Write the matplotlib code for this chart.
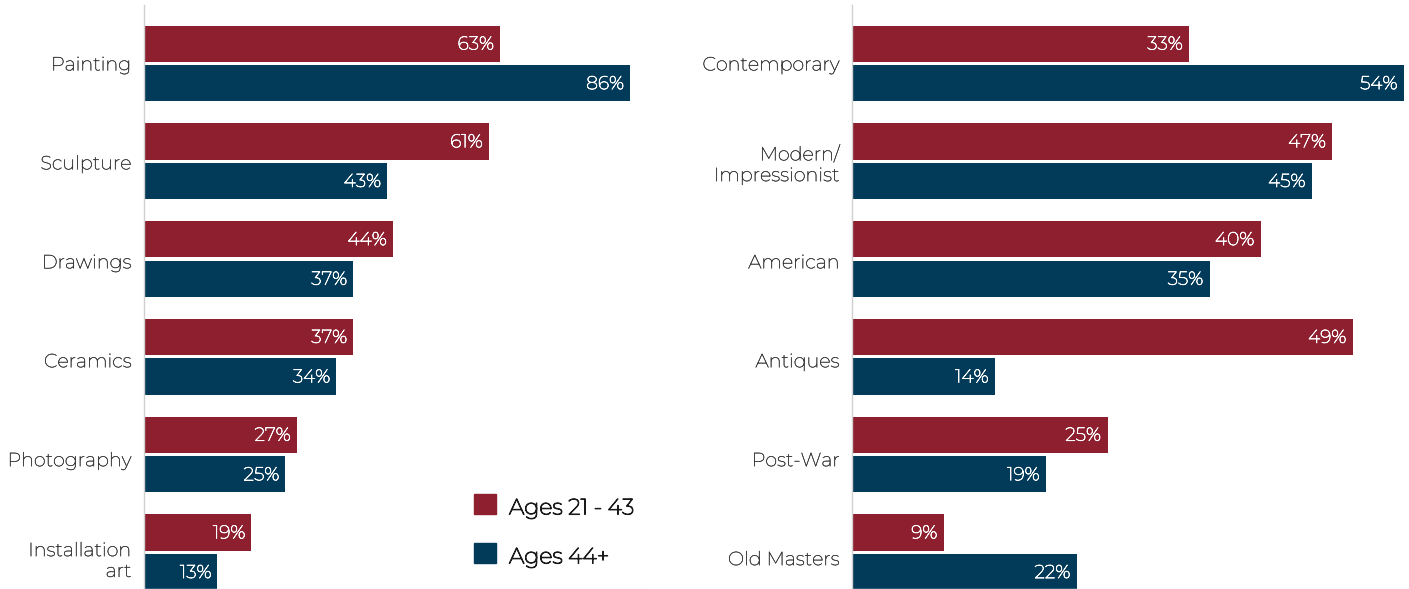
import matplotlib.pyplot as plt
import matplotlib.patheffects as pe
import numpy as np

plt.rcParams['font.family'] = ['Montserrat', 'Lato', 'DejaVu Sans']

medium_cats = ["Painting", "Sculpture", "Drawings", "Ceramics", "Photography", "Installation\nart"]
medium_young = [63, 61, 44, 37, 27, 19]
medium_old = [86, 43, 37, 34, 25, 13]

period_cats = ["Contemporary", "Modern/\nImpressionist", "American", "Antiques", "Post-War", "Old Masters"]
period_young = [33, 47, 40, 49, 25, 9]
period_old = [54, 45, 35, 14, 19, 22]

series_names = ["Ages 21 - 43", "Ages 44+"]
RED = "#8E1F2F"
BLUE = "#023A5A"
LABEL = "#3a3a3a"

W, H = 1409, 589
fig = plt.figure(figsize=(W / 100, H / 100), dpi=100)

bar_h = 0.37
gap = 0.035


def bold(color, lw):
    # thicken the strokes of the thin face
    return [pe.Stroke(linewidth=lw, foreground=color), pe.Normal()]


def panel(rect, cats, young, old, xmax):
    ax = fig.add_axes(rect)
    y = np.arange(len(cats))
    ax.barh(y - bar_h / 2 - gap / 2, young, height=bar_h, color=RED)
    ax.barh(y + bar_h / 2 + gap / 2, old, height=bar_h, color=BLUE)
    for yi, v in zip(y, young):
        ax.text(v - 0.012 * xmax, yi - bar_h / 2 - gap / 2 + 0.01, f"{v}%", ha="right", va="center",
                color="white", fontsize=13.5, path_effects=bold("white", 0.5))
    for yi, v in zip(y, old):
        ax.text(v - 0.012 * xmax, yi + bar_h / 2 + gap / 2 + 0.01, f"{v}%", ha="right", va="center",
                color="white", fontsize=13.5, path_effects=bold("white", 0.5))
    ax.set_ylim(5.375, -0.598)
    ax.set_xlim(0, xmax)
    # category labels sit on a slightly wider band spacing than the bar groups
    ax.set_yticks(y * 1.012)
    labels = ax.set_yticklabels(cats, fontsize=13.8, color=LABEL, ha="right", linespacing=1.2)
    for t in labels:
        t.set_path_effects(bold(LABEL, 0.3))
    ax.tick_params(axis="y", length=0, pad=9)
    ax.set_xticks([])
    for s in ("top", "right"):
        ax.spines[s].set_visible(False)
    ax.spines["left"].set_color("#d0d0d0")
    ax.spines["bottom"].set_color("#eeeeee")
    ax.spines["left"].set_linewidth(1)
    ax.spines["bottom"].set_linewidth(1)
    return ax


def rect(x0, x1, y0, y1):
    return [x0 / W, 1 - y1 / H, (x1 - x0) / W, (y1 - y0) / H]


panel(rect(144, 644, 5, 589), medium_cats, medium_young, medium_old, 500 / 5.651)
panel(rect(852, 1404, 5, 589), period_cats, period_young, period_old, 54)

# legend
for i, (name, col) in enumerate(zip(series_names, [RED, BLUE])):
    yc = 504 + i * 49
    fig.patches.append(plt.Rectangle((474 / W, 1 - (yc + 10) / H), 22 / W, 20 / H,
                                     transform=fig.transFigure, color=col))
    fig.text(509 / W, 1 - (yc + 4) / H, name, fontsize=16, color="#1a1a1a", va="center", ha="left",
             path_effects=bold("#1a1a1a", 0.8))

fig.savefig("out.png", dpi=100)
